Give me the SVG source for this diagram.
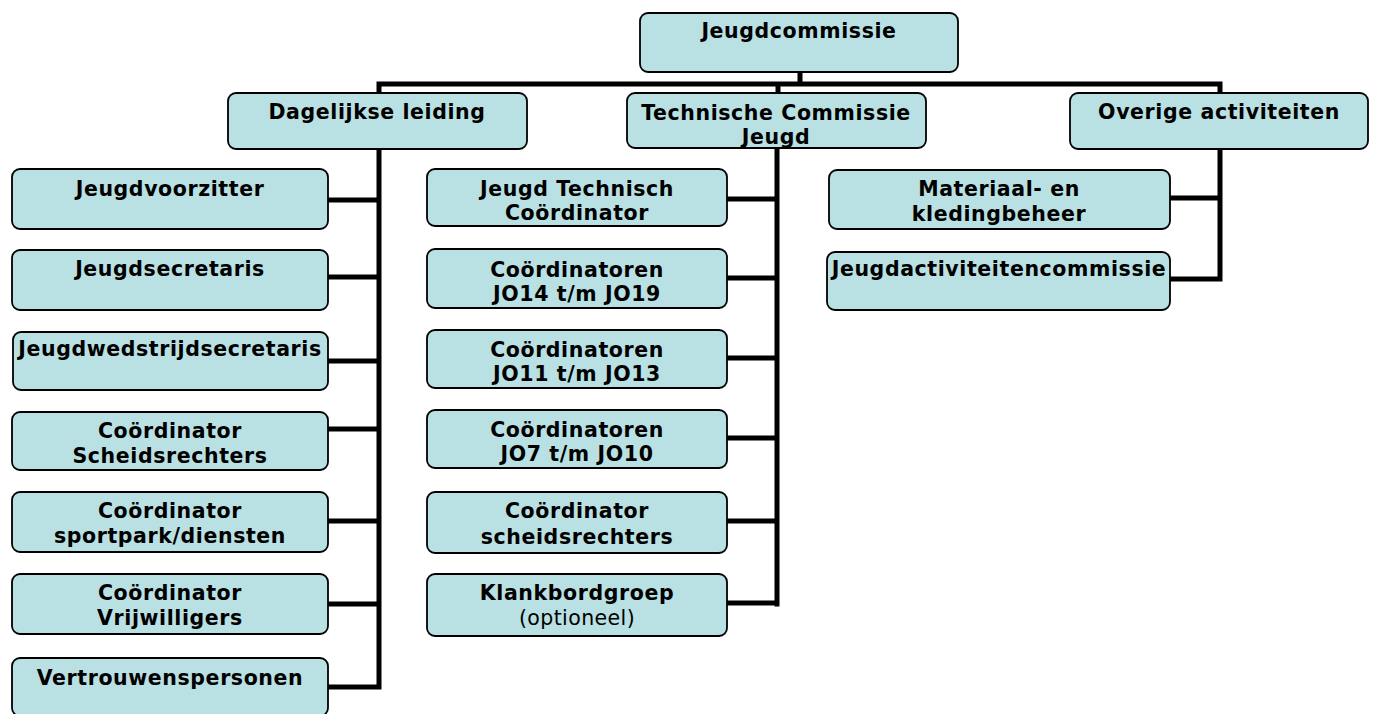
<svg xmlns="http://www.w3.org/2000/svg" width="1374" height="714" viewBox="0 0 1374 714">
<style>
.box{fill:#b9e0e3;stroke:#000;stroke-width:1.8}
.t{font-family:"DejaVu Sans",Verdana,sans-serif;font-weight:bold;font-size:20.5px;letter-spacing:0.6px;fill:#000;text-anchor:middle}
.n{font-weight:normal;letter-spacing:0.4px}
.c{stroke:#000;stroke-width:5;fill:none;stroke-linecap:square}
</style>
<defs>
<clipPath id="tcclip"><rect x="627" y="93" width="299" height="55"/></clipPath>
</defs>
<rect width="1374" height="714" fill="#fff"/>
<g id="connectors">
<path class="c" d="M800 72V84M379 84H1220M379 84V93M778 84V93M1220 84V93"/>
<path class="c" d="M379 149V687M328 200H379M328 277H379M328 361H379M328 429H379M328 521H379M328 604H379M328 687H379"/>
<path class="c" d="M777 148V604M727 199H777M727 278H777M727 358H777M727 438H777M727 521H777M727 603H777"/>
<path class="c" d="M1220 149V279M1170 198H1220M1170 279H1220"/>
</g>
<g id="jeugdcommissie"><rect class="box" x="640" y="13" width="318" height="59" rx="8"/><text class="t" x="799" y="38">Jeugdcommissie</text></g>
<g id="dagelijkse"><rect class="box" x="228" y="93" width="299" height="56" rx="8"/><text class="t" x="377" y="119">Dagelijkse leiding</text></g>
<g id="technische"><rect class="box" x="627" y="93" width="299" height="55" rx="8"/><text class="t" x="776" y="120" clip-path="url(#tcclip)">Technische Commissie<tspan x="776" dy="24">Jeugd</tspan></text></g>
<g id="overige"><rect class="box" x="1070" y="93" width="298" height="56" rx="8"/><text class="t" x="1219" y="119">Overige activiteiten</text></g>

<g id="jeugdvoorzitter"><rect class="box" x="12" y="169" width="316" height="60" rx="8"/><text class="t" x="170" y="196">Jeugdvoorzitter</text></g>
<g id="jeugdsecretaris"><rect class="box" x="12" y="250" width="316" height="60" rx="8"/><text class="t" x="170" y="276">Jeugdsecretaris</text></g>
<g id="jeugdwedstrijdsecretaris"><rect class="box" x="13" y="332" width="315" height="58" rx="8"/><text class="t" x="170" y="356">Jeugdwedstrijdsecretaris</text></g>
<g id="coord-scheids"><rect class="box" x="12" y="412" width="316" height="58" rx="8"/><text class="t" x="170" y="438">Coördinator<tspan x="170" dy="25">Scheidsrechters</tspan></text></g>
<g id="coord-sportpark"><rect class="box" x="12" y="492" width="316" height="60" rx="8"/><text class="t" x="170" y="518">Coördinator<tspan x="170" dy="25">sportpark/diensten</tspan></text></g>
<g id="coord-vrijwilligers"><rect class="box" x="12" y="574" width="316" height="60" rx="8"/><text class="t" x="170" y="600">Coördinator<tspan x="170" dy="25">Vrijwilligers</tspan></text></g>
<g id="vertrouwenspersonen"><rect class="box" x="12" y="658" width="316" height="58" rx="8"/><text class="t" x="170" y="685">Vertrouwenspersonen</text></g>

<g id="jtc"><rect class="box" x="427" y="169" width="300" height="57" rx="8"/><text class="t" x="577" y="196">Jeugd Technisch<tspan x="577" dy="24">Coördinator</tspan></text></g>
<g id="jo14"><rect class="box" x="427" y="249" width="300" height="59" rx="8"/><text class="t" x="577" y="277">Coördinatoren<tspan x="577" dy="24">JO14 t/m JO19</tspan></text></g>
<g id="jo11"><rect class="box" x="427" y="330" width="300" height="58" rx="8"/><text class="t" x="577" y="357">Coördinatoren<tspan x="577" dy="24">JO11 t/m JO13</tspan></text></g>
<g id="jo7"><rect class="box" x="427" y="410" width="300" height="58" rx="8"/><text class="t" x="577" y="437">Coördinatoren<tspan x="577" dy="24">JO7 t/m JO10</tspan></text></g>
<g id="coord-scheids2"><rect class="box" x="427" y="492" width="300" height="61" rx="8"/><text class="t" x="577" y="518">Coördinator<tspan x="577" dy="26">scheidsrechters</tspan></text></g>
<g id="klankbord"><rect class="box" x="427" y="574" width="300" height="62" rx="8"/><text class="t" x="577" y="600">Klankbordgroep<tspan class="n" x="577" dy="25">(optioneel)</tspan></text></g>

<g id="materiaal"><rect class="box" x="829" y="170" width="341" height="59" rx="8"/><text class="t" x="999" y="196">Materiaal- en<tspan x="999" dy="25">kledingbeheer</tspan></text></g>
<g id="jeugdactiviteiten"><rect class="box" x="827" y="252" width="343" height="58" rx="8"/><text class="t" x="999" y="276">Jeugdactiviteitencommissie</text></g>
</svg>
